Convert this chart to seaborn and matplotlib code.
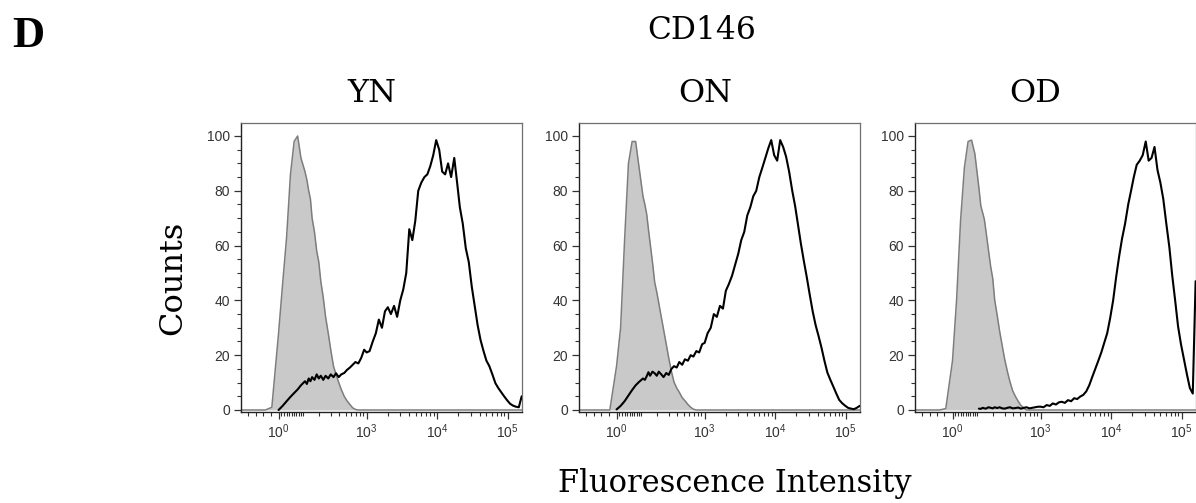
import numpy as np
import pandas as pd
import matplotlib
matplotlib.use('Agg')
import matplotlib.pyplot as plt
from matplotlib.ticker import MultipleLocator, FixedLocator
import seaborn as sns

# ---------------- data ----------------
intensity = [-170, -120, -80, -50, -25, 0, 15, 30, 45, 60, 75, 90, 110,
             120, 130, 140, 150, 165, 180, 195, 210, 230, 250, 275, 300,
             330, 360, 395, 430, 475, 520, 575, 630, 690, 760, 835, 920,
             1000, 1100, 1220, 1350, 1490, 1650, 1820, 2000, 2210, 2450, 2710, 3000,
             3310, 3650, 4030, 4450, 4900, 5400, 5970, 6600, 7270, 8000, 8810, 9700,
             10700, 11800, 13000, 14300, 15800, 17500, 19200, 21000, 23100, 25500, 28100, 31000,
             34100, 37500, 41300, 45500, 50000, 55000, 60700, 67000, 73700, 81000, 89100, 98000,
             108000, 119000, 131000, 144000, 158000]

groups = ['YN', 'ON', 'OD']
nan = np.nan

isotype_YN = ([0, 0, 0, 0, 1, 28, 46, 63, 86, 98, 100, 92, 87] +
              [84, 80, 77, 70, 65, 58, 54, 47, 41, 34, 28, 22] +
              [16, 13, 10, 7.5, 5, 3.4, 2, 0.8, 0.2, 0, 0, 0] +
              [0] * 12 + [0] * 12 + [0] * 12 + [0] * 12 + [0] * 5)
cd146_YN = ([nan, nan, nan, nan, nan, 0, 1.5, 3.2, 4.8, 6.2, 7.5, 9.0, 10.5] +
            [9.5, 11.5, 10.5, 12, 11, 13, 11.5, 12.5, 11, 12.5, 11.5, 13] +
            [12, 13.4, 12, 13, 13.5, 14.6, 15.5, 16.5, 17.5, 17, 19, 22] +
            [21, 21.5, 25, 28, 33, 30, 36, 37.5, 35, 38, 34, 40] +
            [44, 50, 66, 62, 69, 80, 83, 85, 86, 89, 93, 98.5] +
            [95, 87, 86, 90, 85, 92, 83, 74, 68, 59, 54, 45] +
            [38, 31, 25.5, 21.5, 18, 16, 13, 9.8, 8, 6.5, 5, 3.6] +
            [2.3, 1.6, 1.2, 1.0, 5])

isotype_ON = ([0, 0, 0, 0, 0, 16, 30, 62, 90, 98, 98, 89, 78] +
              [75, 71.5, 66, 61, 54, 46.6, 43, 39, 34, 29.4, 24, 19] +
              [14, 10.2, 8, 6.5, 4.5, 3.4, 2, 1, 0.3, 0, 0, 0] +
              [0] * 12 + [0] * 12 + [0] * 12 + [0] * 12 + [0] * 5)
cd146_ON = ([nan, nan, nan, nan, nan, 0.2, 1.5, 3.2, 5.3, 7.3, 9, 10.2, 11.5] +
            [11, 12.3, 13.8, 12.5, 14, 13.4, 12.5, 14, 13, 12, 13.5, 12.8] +
            [15, 16, 15.5, 17.5, 16.5, 18.5, 18, 20, 19.5, 21.5, 21, 24] +
            [24.5, 28, 30, 35, 34, 38, 37, 43.5, 46, 49, 53, 57] +
            [62, 65, 71, 74, 78, 80, 85, 88.5, 92, 95.5, 98.5, 93] +
            [91, 98.5, 96, 92.5, 87, 80, 74.5, 68, 61, 54.5, 48.5, 42] +
            [36, 31, 27, 22.7, 18, 13.7, 11, 8.5, 6, 3.7, 2.5, 1.6] +
            [0.8, 0.5, 0.3, 0.8, 1.5])

isotype_OD = ([0, 0, 0, 0, 0.5, 18, 40, 69, 88.5, 98, 98.5, 93.5, 81] +
              [74.5, 72, 69.5, 65, 58.5, 52.4, 48, 40, 34.5, 29, 23.5, 18.5] +
              [14, 10.3, 7, 5.1, 3.2, 1.7, 0.7, 0, 0, 0, 0, 0] +
              [0] * 12 + [0] * 12 + [0] * 12 + [0] * 12 + [0] * 5)
cd146_OD = ([nan] * 12 + [0.5] +
            [0.4, 0.8, 0.6, 0.5, 1.0, 0.8, 0.6, 1.0, 0.7, 1.0, 0.6, 0.5] +
            [0.8, 1.0, 0.6, 0.7, 0.9, 0.5, 0.8, 1.0, 0.6, 0.8, 1.0, 1.2] +
            [1.2, 1.0, 1.8, 1.5, 2.4, 2.0, 2.8, 3.0, 2.6, 3.6, 3.2, 4.3] +
            [4.0, 4.9, 5.5, 6.8, 9, 12, 15, 18, 21, 24.5, 28, 33.5] +
            [40, 48.5, 56, 62.5, 68, 75, 80, 85, 89.5, 91, 93, 98] +
            [91, 92, 96, 87.6, 83, 77, 68, 59.5, 49, 40, 30.5, 24] +
            [18.5, 13, 8, 6, 47])

isotype = {'YN': isotype_YN, 'ON': isotype_ON, 'OD': isotype_OD}
cd146 = {'YN': cd146_YN, 'ON': cd146_ON, 'OD': cd146_OD}

x_major = [0, 1e3, 1e4, 1e5]
x_labels = [r'$\mathregular{10^{0}}$', r'$\mathregular{10^{3}}$',
            r'$\mathregular{10^{4}}$', r'$\mathregular{10^{5}}$']
x_minor = ([-130, -90, -60, -30] + list(range(10, 100, 10)) + [100] +
           list(range(200, 1000, 100)) + list(range(2000, 10000, 1000)) +
           list(range(20000, 100000, 10000)))

# ---------------- style ----------------
sns.set_style('ticks')
plt.rcParams['font.family'] = ['Liberation Sans', 'DejaVu Sans']
plt.rcParams['text.color'] = 'black'
label_font = ['DejaVu Serif']
letter_font = ['Liberation Serif', 'DejaVu Serif']

fig = plt.figure(figsize=(11.96, 5.03), dpi=100)
lefts = [0.2015, 0.4841, 0.765]
bottom, width, height = 0.1819, 0.235, 0.5736

for i, g in enumerate(groups):
    ax = fig.add_axes([lefts[i], bottom, width, height])
    df = pd.DataFrame({'x': intensity, 'iso': isotype[g], 'cd': cd146[g]})
    ax.fill_between(df['x'], df['iso'], 0, color='#c9c9c9', lw=0, zorder=1)
    sns.lineplot(data=df, x='x', y='iso', ax=ax, color='#7d7d7d', lw=1.1, zorder=2)
    sns.lineplot(data=df.dropna(), x='x', y='cd', ax=ax, color='black', lw=1.5, zorder=3)
    ax.set_xscale('asinh', linear_width=113)
    ax.set_xlim(-176, 160000)
    ax.set_ylim(-0.55, 104.75)
    ax.set_xlabel('')
    ax.set_ylabel('')
    ax.xaxis.set_major_locator(FixedLocator(x_major))
    ax.set_xticklabels(x_labels)
    ax.xaxis.set_minor_locator(FixedLocator(x_minor))
    ax.yaxis.set_major_locator(MultipleLocator(20))
    ax.yaxis.set_minor_locator(MultipleLocator(5))
    ax.tick_params(axis='both', which='major', length=5, width=0.9,
                   color='#333333', labelsize=10, labelcolor='#333333', pad=3)
    ax.tick_params(axis='both', which='minor', length=2.8, width=0.8, color='#333333')
    for side in ['top', 'right']:
        ax.spines[side].set_color('#6f6f6f')
        ax.spines[side].set_linewidth(0.9)
    for side in ['left', 'bottom']:
        ax.spines[side].set_color('#222222')
        ax.spines[side].set_linewidth(1.0)

title_x = [372 / 1196, 705 / 1196, 1035 / 1196]
for g, tx in zip(groups, title_x):
    fig.text(tx, 1 - 102 / 503, g, ha='center', va='baseline', fontsize=23,
             family=label_font)

fig.text(28.5 / 1196, 1 - 47 / 503, 'D', ha='center', va='baseline', fontsize=32,
         fontweight='bold', family=letter_font)
fig.text(702 / 1196, 1 - 39 / 503, 'CD146', ha='center', va='baseline', fontsize=22.5,
         family=label_font)
fig.text(173 / 1196, 1 - 278 / 503, 'Counts', ha='center', va='center',
         rotation=90, fontsize=23, family=label_font)
fig.text(558 / 1196, 1 - 492 / 503, 'Fluorescence Intensity', ha='left', va='baseline',
         fontsize=22, family=label_font)

fig.savefig('out.png', dpi=100)
